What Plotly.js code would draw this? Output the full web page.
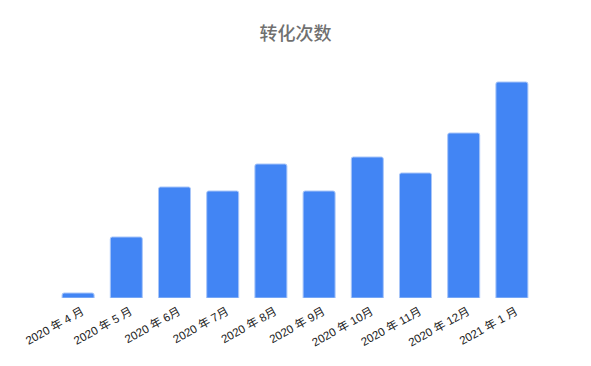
<!DOCTYPE html>
<html>
<head>
<meta charset="utf-8">
<script src="https://cdn.plot.ly/plotly-3.0.1.min.js"></script>
<style>
  html, body { margin: 0; padding: 0; background: #fff; }
  #chart { width: 591px; height: 366px; }
</style>
</head>
<body>
<div id="chart"></div>
<script>
// Monthly conversion counts
const months = [
  "2020 年 4 月", "2020 年 5 月", "2020 年 6月", "2020 年 7月", "2020 年 8月",
  "2020 年 9月", "2020 年 10月", "2020 年 11月", "2020 年 12月", "2021 年 1 月"
];
const conversions = [5, 61, 111, 107, 134, 107, 141, 125, 165, 216];
const chartTitle = "转化次数";

const trace = {
  type: "bar",
  x: months,
  y: conversions,
  marker: {
    color: "#4285F4",
    line: { color: "#a9c6f8", width: 1 },
    cornerradius: 2
  },
  hoverinfo: "x+y"
};

const layout = {
  width: 591,
  height: 366,
  margin: { l: 54, r: 55, t: 68, b: 68 },
  paper_bgcolor: "#fff",
  plot_bgcolor: "#fff",
  bargap: 0.336,
  showlegend: false,
  title: {
    text: chartTitle,
    x: 0.5,
    xanchor: "center",
    y: 0.907,
    yanchor: "middle",
    font: { family: "Noto Sans CJK SC, sans-serif", size: 18, weight: 500, color: "#707070" }
  },
  xaxis: {
    type: "category",
    tickangle: -29,
    showgrid: false,
    zeroline: false,
    showline: false,
    ticks: "",
    ticklabelshift: 4,
    ticklabelstandoff: 4,
    tickfont: { family: "Liberation Sans, Noto Sans CJK SC, sans-serif", size: 11.5, color: "#222" }
  },
  yaxis: {
    range: [0, 230],
    showgrid: false,
    zeroline: false,
    showline: false,
    showticklabels: false,
    ticks: ""
  }
};

Plotly.newPlot("chart", [trace], layout, { displayModeBar: false, staticPlot: true });
</script>
</body>
</html>
